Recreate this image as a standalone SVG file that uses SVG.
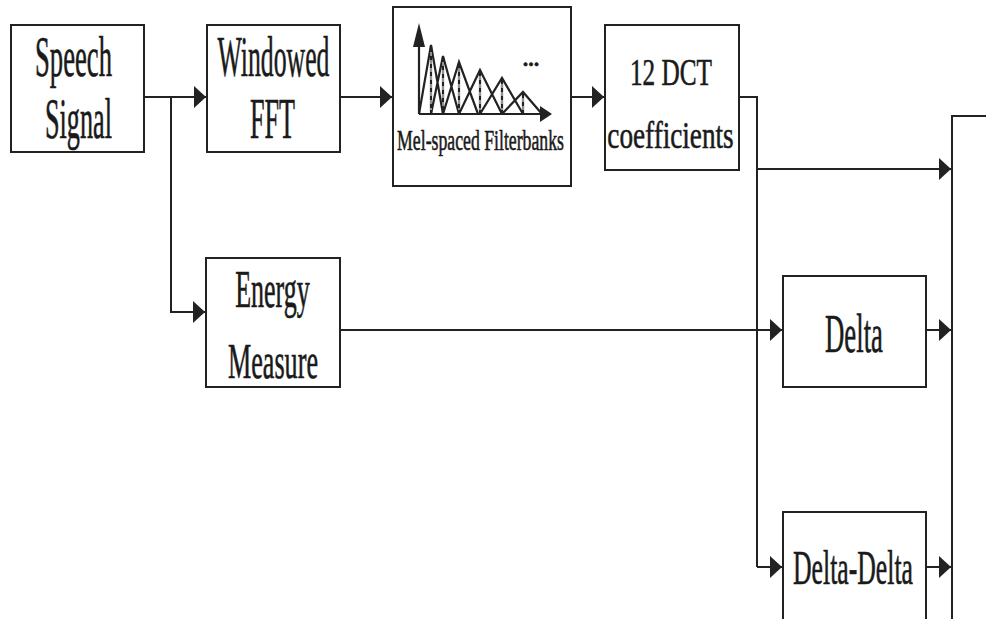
<svg xmlns="http://www.w3.org/2000/svg" width="986" height="619" viewBox="0 0 986 619">
<defs>
<style>
.box{fill:#fff;stroke:#222;stroke-width:2}
.ln{fill:none;stroke:#222;stroke-width:2}
.arr{fill:none;stroke:#222;stroke-width:2;marker-end:url(#ah)}
.t{font-family:"Liberation Serif","Times New Roman",serif;fill:#1a1a1a;stroke:#1a1a1a;stroke-width:0.5;vector-effect:non-scaling-stroke;text-anchor:middle}
.g{fill:none;stroke:#222;stroke-width:2.2;stroke-linejoin:miter}
.v{stroke:#222;stroke-width:2.2}
.d{stroke:#fff;stroke-width:1;stroke-dasharray:4 4}
.hd{fill:#222}
</style>
<marker id="ah" markerUnits="userSpaceOnUse" markerWidth="13" markerHeight="22" refX="12" refY="11" orient="auto">
<path d="M0,0 L12,11 L0,22 z" fill="#222"/>
</marker>
</defs>
<rect width="986" height="619" fill="#fff"/>

<g id="connectors">
<path class="arr" d="M144,97 H206"/>
<path class="arr" d="M171,97 V312 H205"/>
<path class="arr" d="M340,97 H392"/>
<path class="arr" d="M571,97 H604"/>
<path class="ln" d="M739,97 H757 V567"/>
<path class="arr" d="M757,169 H951"/>
<path class="arr" d="M340,330 H782"/>
<path class="arr" d="M757,567 H782"/>
<path class="arr" d="M926,330 H951"/>
<path class="arr" d="M926,567 H951"/>
</g>

<g id="speech-signal">
<rect class="box" x="11" y="25" width="133" height="127"/>
<text class="t" transform="translate(73.5,76) scale(0.476,1)" font-size="56">Speech</text>
<text class="t" transform="translate(78.5,138) scale(0.468,1)" font-size="56">Signal</text>
</g>

<g id="windowed-fft">
<rect class="box" x="207" y="25" width="133" height="127"/>
<text class="t" transform="translate(273.5,76) scale(0.46,1)" font-size="56">Windowed</text>
<text class="t" transform="translate(272.5,138) scale(0.466,1)" font-size="56">FFT</text>
</g>

<g id="mel-filterbanks">
<rect class="box" x="393" y="7" width="178" height="179"/>
<path class="g" d="M419,114 V44 M419,114 H542"/>
<path class="hd" d="M419,23 L425,47 L413,47 z"/>
<path class="hd" d="M552,114 L540,106 L540,122 z"/>
<path class="g" d="M419,114 L431,45 L443,114 M431,114 L443,56 L459,114 M443,114 L459,62 L478,114 M459,114 L480,70 L502,114 M480,114 L502,78 L523,114 M502,114 L523,92 L542,114"/>
<path class="v" d="M431,46 V114 M443,57 V114 M459,63 V114 M480,71 V114 M502,79 V114 M523,93 V114"/>
<path class="d" d="M431,52 V110 M443,62 V110 M459,68 V110 M480,76 V110 M502,84 V110 M523,98 V110"/>
<text class="t" x="531" y="66" font-size="22" font-weight="bold" stroke-width="0">...</text>
<text class="t" transform="translate(480.5,150) scale(0.591,1)" font-size="30">Mel-spaced Filterbanks</text>
</g>

<g id="dct">
<rect class="box" x="605" y="25" width="134" height="145"/>
<text class="t" transform="translate(671,85) scale(0.664,1)" font-size="38">12 DCT</text>
<text class="t" transform="translate(670.5,148) scale(0.716,1)" font-size="38">coefficients</text>
</g>

<g id="energy-measure">
<rect class="box" x="206" y="258" width="134" height="129"/>
<text class="t" transform="translate(272.5,307) scale(0.5,1)" font-size="52">Energy</text>
<text class="t" transform="translate(273,378) scale(0.523,1)" font-size="50">Measure</text>
</g>

<g id="delta">
<rect class="box" x="783" y="276" width="143" height="111"/>
<text class="t" transform="translate(854,352) scale(0.496,1)" font-size="54">Delta</text>
</g>

<g id="delta-delta">
<rect class="box" x="783" y="512" width="143" height="130"/>
<text class="t" transform="translate(853,584) scale(0.536,1)" font-size="48">Delta-Delta</text>
</g>

<g id="output">
<rect class="box" x="952" y="116" width="100" height="560"/>
</g>
</svg>
